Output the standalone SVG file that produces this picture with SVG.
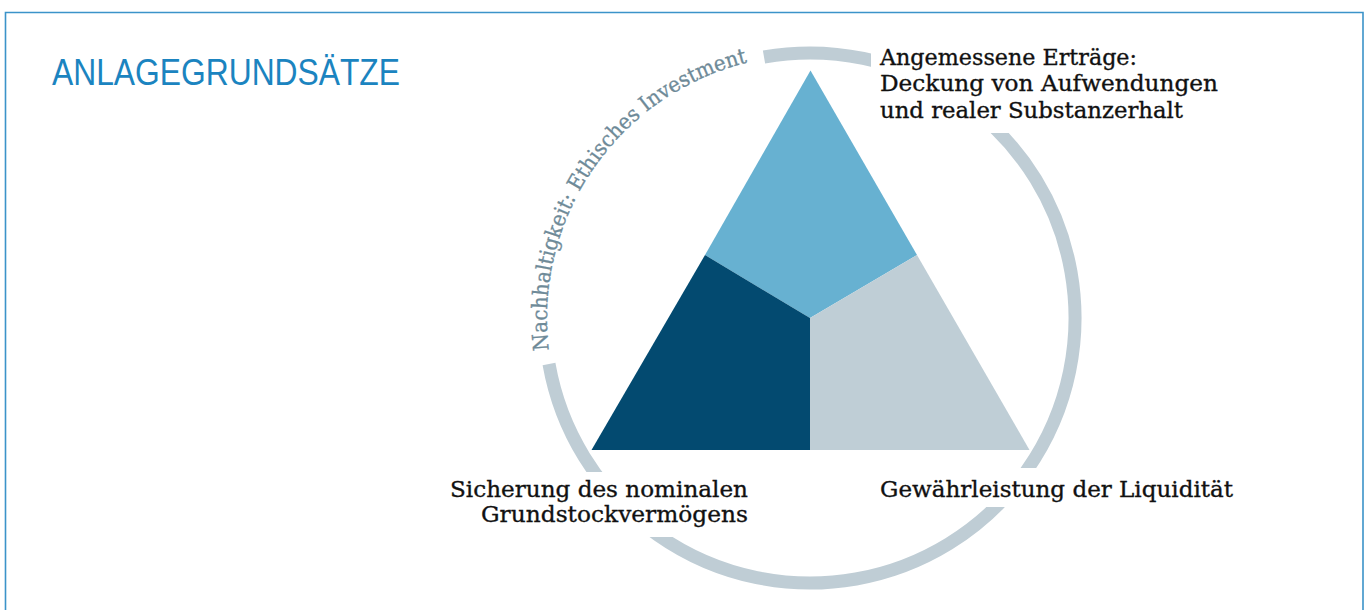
<svg xmlns="http://www.w3.org/2000/svg" xmlns:xlink="http://www.w3.org/1999/xlink" width="1368" height="610" viewBox="0 0 1368 610">
<defs>
<style>
.label{font-family:"DejaVu Serif","Liberation Serif",serif;font-size:23px;fill:#111111;stroke:#111111;stroke-width:0.35px;}
.curve{font-family:"DejaVu Serif","Liberation Serif",serif;font-size:21.5px;fill:#6e8a98;stroke:#6e8a98;stroke-width:0.3px;}
.title{font-family:"Liberation Sans","DejaVu Sans",sans-serif;font-size:37px;fill:#1b84c0;}
.ring{fill:none;stroke:#bfcdd5;stroke-width:13;}
.mask{fill:#ffffff;}
</style>
<path id="arcText" d="M 548.96 350.05 A 263 263 0 0 1 755.3 60.8"/>
</defs>
<rect x="0" y="0" width="1368" height="610" fill="#ffffff"/>
<path d="M 5.5 620 L 5.5 12.5 L 1363 12.5 L 1363 620" fill="none" stroke="#3b93c9" stroke-width="1.6"/>
<text class="title" x="52" y="85" textLength="348" lengthAdjust="spacingAndGlyphs">ANLAGEGRUNDSÄTZE</text>
<g id="connectors">
<path id="ring" class="ring" d="M 764.0 57.0 A 265 265 0 1 1 549.0 364.0"/>
</g>
<g id="triangle">
<polygon id="seg-top" points="810.5,70.5 917,255 810,318 705,255" fill="#67b1d1"/>
<polygon id="seg-left" points="705,255 810,318 810,450 591.5,450" fill="#034a70"/>
<polygon id="seg-right" points="917,255 1029.5,450 810,450 810,318" fill="#bfced6"/>
</g>
<g id="node-ethik">
<text class="curve"><textPath xlink:href="#arcText" href="#arcText" textLength="382" lengthAdjust="spacingAndGlyphs">Nachhaltigkeit: Ethisches Investment</textPath></text>
</g>
<g id="node-ertraege">
<rect class="mask" x="871" y="38" width="360" height="95"/>
<text class="label" x="880" y="64.5" textLength="257" lengthAdjust="spacingAndGlyphs">Angemessene Erträge:</text>
<text class="label" x="880" y="91" textLength="338" lengthAdjust="spacingAndGlyphs">Deckung von Aufwendungen</text>
<text class="label" x="880" y="117.5" textLength="303" lengthAdjust="spacingAndGlyphs">und realer Substanzerhalt</text>
</g>
<g id="node-sicherung">
<rect class="mask" x="440" y="472" width="318" height="65"/>
<text class="label" x="450" y="496.5" textLength="298" lengthAdjust="spacingAndGlyphs">Sicherung des nominalen</text>
<text class="label" x="481" y="522" textLength="267" lengthAdjust="spacingAndGlyphs">Grundstockvermögens</text>
</g>
<g id="node-liquiditaet">
<rect class="mask" x="872" y="468" width="370" height="39"/>
<text class="label" x="880" y="496.5" textLength="353" lengthAdjust="spacingAndGlyphs">Gewährleistung der Liquidität</text>
</g>
</svg>
